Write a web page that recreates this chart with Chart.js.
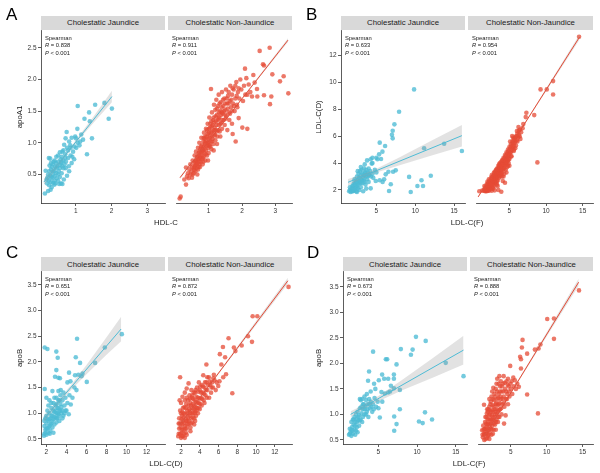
<!DOCTYPE html>
<html><head><meta charset="utf-8">
<script src="https://cdn.jsdelivr.net/npm/chart.js@4/dist/chart.umd.min.js"></script>
<style>
body{margin:0;width:600px;height:473px;overflow:hidden;background:#fff;font-family:"Liberation Sans",Arial,sans-serif;position:relative}
.strip{position:absolute;background:#d9d9d9;color:#1a1a1a;font-size:7.8px;text-align:center;white-space:nowrap;display:flex;align-items:center;justify-content:center;transform:translateZ(0)}
.lab{position:absolute;font-size:17px;line-height:17px;color:#000}
.xt{position:absolute;font-size:7.8px;line-height:9px;color:#1a1a1a;transform:translateX(-50%);white-space:nowrap}
.yt{position:absolute;font-size:7.8px;line-height:9px;color:#1a1a1a;transform:translate(-50%,-50%) rotate(-90deg);white-space:nowrap}
.ann{position:absolute;font-size:5.8px;line-height:7.5px;color:#1a1a1a;white-space:nowrap}
canvas{position:absolute}
</style></head><body>
<script>
// ---------------- DATA ----------------
const STRIPS = ['Cholestatic Jaundice', 'Cholestatic Non-Jaundice'];
const PANELS = ['A', 'B', 'C', 'D'];
const XTITLES = ['HDL-C', 'LDL-C(F)', 'LDL-C(D)', 'LDL-C(F)'];
const YTITLES = ['apoA1', 'LDL-C(D)', 'apoB', 'apoB'];
const R_J = ['0.838', '0.633', '0.651', '0.673'];
const R_N = ['0.911', '0.954', '0.872', '0.888'];

const A_XTICKS = [1, 2, 3];
const A_XLABELS = ['1', '2', '3'];
const A_YTICKS = [0.5, 1.0, 1.5, 2.0, 2.5];
const A_YLABELS = ['0.5', '1.0', '1.5', '2.0', '2.5'];
const B_XTICKS = [5, 10, 15];
const B_XLABELS = ['5', '10', '15'];
const B_YTICKS = [2, 4, 6, 8, 10, 12];
const B_YLABELS = ['2', '4', '6', '8', '10', '12'];
const C_XTICKS = [2, 4, 6, 8, 10, 12];
const C_XLABELS = ['2', '4', '6', '8', '10', '12'];
const C_YTICKS = [0.5, 1.0, 1.5, 2.0, 2.5, 3.0, 3.5];
const C_YLABELS = ['0.5', '1.0', '1.5', '2.0', '2.5', '3.0', '3.5'];
const D_XTICKS = [5, 10, 15];
const D_XLABELS = ['5', '10', '15'];
const D_YTICKS = C_YTICKS;
const D_YLABELS = C_YLABELS;

// A: HDL-C vs apoA1
const A_J = [[1.05,1.58],[1.37,1.48],[1.54,1.60],[1.80,1.63],[2.01,1.54],[1.92,1.38],[1.24,1.38],[1.39,1.34],[1.45,1.07],[1.31,0.82],[1.04,1.22],[1.15,1.13],[0.74,1.17],[0.88,1.08],[1.0,1.07],[0.81,1.02],[0.96,0.94],[0.92,0.86],[1.01,0.92],[0.71,1.07],[0.84,0.96],[0.67,0.97],[0.62,0.86],[0.55,0.85],[0.5,0.80],[0.45,0.78],[0.6,0.78],[0.7,0.82],[0.78,0.88],[0.85,0.80],[0.4,0.72],[0.5,0.70],[0.58,0.68],[0.65,0.72],[0.72,0.70],[0.24,0.76],[0.28,0.75],[0.35,0.66],[0.42,0.62],[0.48,0.63],[0.55,0.60],[0.62,0.63],[0.71,0.60],[0.81,0.55],[0.3,0.58],[0.36,0.55],[0.45,0.52],[0.52,0.55],[0.6,0.52],[0.15,0.56],[0.22,0.50],[0.28,0.48],[0.34,0.45],[0.4,0.47],[0.46,0.44],[0.55,0.46],[0.18,0.42],[0.24,0.40],[0.30,0.38],[0.36,0.37],[0.42,0.36],[0.5,0.40],[0.58,0.36],[0.53,0.35],[0.19,0.36],[0.25,0.33],[0.32,0.30],[0.29,0.26],[0.13,0.20],[0.22,0.24],[0.4,0.34],[0.62,0.35],[0.66,0.42],[0.75,0.48],[0.8,0.63],[0.88,0.68],[0.95,0.74],[0.78,0.76],[0.9,0.78],[0.68,0.66],[1.1,0.96],[1.05,1.0],[0.98,1.1],[1.2,1.05],[0.85,0.92],[0.33,0.62],[0.38,0.70],[0.44,0.68],[0.26,0.64],[0.57,0.74],[1.12,1.02],[0.3,0.45],[0.35,0.5],[0.4,0.55],[0.45,0.6],[0.5,0.5],[0.55,0.65],[0.6,0.7],[0.65,0.6],[0.3,0.68],[0.25,0.55],[0.2,0.45],[0.4,0.4],[0.7,0.76],[0.75,0.92],[0.65,0.88]];
const A_N = [[0.13,0.12],[0.16,0.15],[0.27,0.42],[0.32,0.34],[0.32,0.61],[0.35,0.47],[0.38,0.52],[0.4,0.44],[0.42,0.58],[0.45,0.50],[0.45,0.66],[0.48,0.55],[0.5,0.45],[0.5,0.62],[0.52,0.72],[0.55,0.52],[0.55,0.60],[0.57,0.68],[0.58,0.80],[0.6,0.55],[0.6,0.64],[0.62,0.72],[0.62,0.86],[0.64,0.60],[0.65,0.78],[0.66,0.68],[0.68,0.92],[0.68,0.58],[0.7,0.74],[0.7,0.84],[0.72,0.66],[0.72,1.0],[0.74,0.78],[0.75,0.90],[0.76,0.70],[0.78,0.84],[0.78,1.08],[0.8,0.74],[0.8,0.96],[0.82,0.66],[0.82,0.88],[0.84,1.02],[0.85,0.78],[0.86,0.94],[0.86,1.16],[0.88,0.84],[0.88,1.06],[0.9,0.72],[0.9,0.98],[0.92,1.22],[0.92,0.88],[0.94,1.10],[0.95,0.80],[0.96,1.0],[0.97,1.30],[0.98,0.92],[1.0,1.16],[1.0,1.06],[1.0,0.84],[1.02,1.40],[1.03,0.96],[1.04,1.24],[1.05,1.12],[1.06,1.02],[1.07,1.85],[1.08,1.34],[1.08,0.90],[1.1,1.18],[1.1,1.48],[1.12,1.06],[1.12,1.28],[1.14,0.98],[1.15,1.40],[1.16,1.60],[1.17,1.14],[1.18,1.24],[1.2,1.52],[1.2,1.04],[1.22,1.34],[1.23,1.68],[1.24,1.18],[1.25,1.44],[1.26,1.10],[1.28,1.58],[1.3,1.28],[1.3,1.76],[1.32,1.40],[1.33,1.18],[1.35,1.50],[1.36,1.64],[1.38,1.32],[1.4,1.80],[1.4,1.22],[1.42,1.46],[1.44,1.58],[1.45,1.36],[1.47,1.70],[1.48,1.28],[1.5,1.52],[1.52,1.84],[1.53,1.42],[1.55,1.62],[1.56,1.20],[1.58,1.74],[1.6,1.48],[1.62,1.36],[1.63,1.66],[1.65,1.90],[1.67,1.56],[1.7,1.76],[1.7,1.30],[1.72,1.14],[1.73,1.62],[1.75,1.84],[1.78,1.50],[1.8,1.70],[1.81,1.02],[1.83,1.96],[1.85,1.60],[1.86,1.56],[1.88,1.80],[1.9,1.39],[1.92,1.70],[1.95,2.0],[1.98,1.84],[2.01,1.24],[2.03,1.66],[2.06,1.90],[2.09,2.17],[2.1,1.76],[2.13,2.02],[2.16,1.22],[2.16,1.76],[2.2,1.92],[2.25,1.80],[2.3,1.73],[2.34,2.07],[2.38,1.95],[2.45,1.85],[2.46,1.73],[2.53,2.45],[2.63,2.24],[2.66,2.22],[2.66,1.75],[2.83,2.50],[2.84,1.61],[2.88,1.73],[2.91,2.08],[3.14,1.97],[3.25,2.05],[3.39,1.78],[0.66,0.50],[0.74,0.62],[0.95,1.2],[1.05,1.3],[1.15,0.88],[1.25,0.98],[1.35,1.1],[0.84,0.7],[0.98,0.72],
[0.52,0.5],[0.56,0.57],[0.6,0.7],[0.63,0.66],[0.66,0.74],[0.69,0.8],[0.71,0.7],[0.73,0.86],[0.75,0.76],[0.77,0.94],[0.79,0.8],[0.81,0.9],[0.83,0.76],[0.85,1.08],[0.87,0.9],[0.89,1.0],[0.91,0.82],[0.93,1.04],[0.95,0.95],[0.97,1.14],[0.99,1.0],[1.01,1.22],[1.03,1.08],[1.05,0.94],[1.07,1.16],[1.09,1.26],[1.11,1.1],[1.13,1.36],[1.15,1.2],[1.17,1.32],[1.19,1.12],[1.21,1.42],[1.23,1.28],[1.25,1.54],[1.27,1.36],[1.29,1.2],[1.31,1.48],[1.33,1.62],[1.35,1.3],[1.37,1.44],[1.39,1.56],[1.41,1.36],[1.43,1.68],[1.46,1.5],[1.49,1.62],[1.51,1.38],[1.54,1.7],[1.57,1.54],[1.6,1.8],[1.64,1.46],[1.68,1.68],[1.72,1.86],[1.76,1.58],[1.8,1.9],[1.84,1.74],[1.9,1.86],[0.58,0.62],[0.7,0.62],[0.8,0.86],[0.9,1.1],[1.0,0.96],[1.1,1.02],[1.2,1.2],[1.3,1.38],[1.4,1.48],[1.5,1.44],[1.6,1.62],[1.7,1.5]];
const A_J_LINE = [[0.10,0.38],[2.01,1.73]];
const A_J_BAND_X = [0.10,0.6,1.0,1.5,2.01];
const A_J_BAND_LO = [0.33,0.71,0.995,1.32,1.64];
const A_J_BAND_HI = [0.43,0.75,1.045,1.42,1.82];
const A_N_LINE = [[0.14,0.45],[3.38,2.62]];
const A_N_BAND_X = [0.14,1.0,2.0,3.38];
const A_N_BAND_LO = [0.43,1.025,1.69,2.59];
const A_N_BAND_HI = [0.47,1.035,1.71,2.65];

// B: LDL-C(F) vs LDL-C(D)
const B_J = [[1.5,1.9],[1.6,2.0],[1.7,1.85],[1.8,2.1],[1.9,1.95],[2.0,2.3],[2.0,1.9],[2.1,2.5],[2.2,2.0],[2.2,2.8],[2.3,2.2],[2.4,2.6],[2.4,1.9],[2.5,3.0],[2.5,2.3],[2.6,2.1],[2.6,2.7],[2.7,3.2],[2.7,2.4],[2.8,2.0],[2.8,2.9],[2.9,3.4],[2.9,2.6],[3.0,3.1],[3.0,2.2],[3.1,2.8],[3.1,3.5],[3.2,2.5],[3.2,3.2],[3.3,1.9],[3.3,2.9],[3.4,3.6],[3.4,2.7],[3.5,3.3],[3.6,3.0],[3.6,2.4],[3.7,3.5],[3.8,2.8],[3.9,3.3],[4.0,3.6],[4.0,2.6],[4.1,3.1],[4.2,3.4],[4.27,4.28],[4.4,3.96],[4.49,4.4],[4.27,2.12],[4.5,3.2],[4.6,2.9],[4.8,3.5],[4.92,2.67],[5.0,3.3],[5.13,4.28],[5.35,4.65],[5.43,5.52],[5.43,2.72],[5.78,4.85],[5.8,2.6],[6.0,2.79],[6.12,5.27],[6.2,3.16],[6.55,3.36],[6.63,1.92],[6.85,2.42],[7.0,6.1],[7.1,6.4],[7.1,5.84],[7.15,3.36],[7.32,6.88],[7.49,3.46],[7.92,7.82],[9.21,2.97],[9.42,1.85],[9.85,9.48],[10.28,2.3],[10.8,2.72],[11.0,2.3],[11.14,5.1],[12.0,3.06],[13.72,5.44],[16.0,4.9],[1.9,2.3],[2.3,2.5],[3.5,3.9],[3.8,4.2],[2.6,3.4],[3.0,3.7],[4.5,4.0],[5.0,4.4],[5.6,4.3],[3.7,2.1],[4.3,3.0],[1.6,2.2],[1.8,1.9],[2.0,2.1],[2.2,2.4],[2.4,2.2],[2.6,2.5],[2.8,2.7],[3.0,2.5],[3.2,2.7],[3.4,3.1],[3.6,3.3],[3.8,3.0],[4.0,3.1],[2.1,1.95],[2.5,1.85],[3.5,2.6]];
const B_N = [[0.9,1.9],[1.3,1.95],[1.5,2.0],[1.6,2.3],[1.7,1.9],[1.8,2.1],[1.9,2.4],[2.0,2.0],[2.0,2.6],[2.1,2.2],[2.2,2.8],[2.2,1.95],[2.3,2.4],[2.4,2.1],[2.4,2.6],[2.5,2.9],[2.5,2.3],[2.6,2.5],[2.6,3.1],[2.7,2.2],[2.7,2.7],[2.8,3.0],[2.8,2.4],[2.9,2.8],[2.9,3.3],[3.0,2.6],[3.0,3.0],[3.0,1.97],[3.1,3.4],[3.1,2.8],[3.2,3.1],[3.2,2.5],[3.3,3.6],[3.3,2.9],[3.4,3.3],[3.4,2.7],[3.5,3.1],[3.5,3.8],[3.6,3.5],[3.6,2.9],[3.7,3.3],[3.7,4.0],[3.8,3.7],[3.8,3.1],[3.9,1.87],[3.9,3.5],[4.0,4.2],[4.0,3.3],[4.1,3.8],[4.1,2.67],[4.2,4.4],[4.2,3.6],[4.3,4.0],[4.3,3.2],[4.4,2.54],[4.4,4.6],[4.4,3.8],[4.5,4.2],[4.5,3.5],[4.6,4.8],[4.6,4.0],[4.7,4.4],[4.7,3.7],[4.8,5.0],[4.8,4.2],[4.9,4.6],[5.0,5.2],[5.0,4.3],[5.1,4.8],[5.2,5.4],[5.2,4.5],[5.3,5.0],[5.4,5.6],[5.38,6.01],[5.5,5.2],[5.6,5.76],[5.6,4.9],[5.7,5.5],[5.8,5.9],[5.9,5.3],[6.0,6.0],[6.03,6.38],[6.1,5.6],[6.24,6.68],[6.3,6.1],[6.46,6.5],[6.5,5.8],[6.6,6.3],[7.23,7.42],[7.32,7.74],[8.39,7.57],[8.82,4.05],[9.25,9.48],[10.1,9.48],[10.96,10.1],[10.96,9.1],[14.5,13.4],[3.5,2.0],[2.6,1.95],[1.9,1.9],[2.2,2.3],[3.6,3.9],[4.9,4.0],[5.1,5.6],[5.5,5.9],[4.0,3.0],[3.3,2.4],[2.8,2.1],[4.6,3.3],[3.9,4.1],[5.8,5.1],[6.2,5.9],[6.8,6.6],[6.9,6.9],
[1.6,1.95],[1.7,2.2],[1.8,1.95],[1.9,2.2],[2.0,2.3],[2.1,2.5],[2.1,1.95],[2.2,2.55],[2.3,2.1],[2.3,2.7],[2.4,2.35],[2.5,2.6],[2.5,2.05],[2.6,2.8],[2.7,2.45],[2.7,3.0],[2.8,2.65],[2.9,3.1],[2.9,2.3],[3.0,2.85],[3.0,3.3],[3.1,2.6],[3.1,3.1],[3.2,2.9],[3.2,3.5],[3.3,3.2],[3.3,2.65],[3.4,3.5],[3.4,3.0],[3.5,3.6],[3.5,3.25],[3.6,3.2],[3.6,3.7],[3.7,3.6],[3.7,3.0],[3.8,3.4],[3.8,3.9],[3.9,3.8],[3.9,3.2],[4.0,3.6],[4.0,4.0],[4.1,4.2],[4.1,3.5],[4.2,3.9],[4.3,4.3],[4.3,3.6],[4.4,4.1],[4.5,4.5],[4.5,3.9],[4.6,4.3],[4.7,4.7],[4.7,4.1],[4.8,4.5],[4.9,4.9],[4.9,4.3],[5.0,4.7],[5.1,5.1],[5.2,4.8],[5.3,5.3],[5.4,5.1],[5.5,5.5],[5.6,5.3],[5.7,5.8],[5.8,5.6],[5.9,6.0],[6.0,5.7],[6.1,6.2],[6.3,6.4],[6.4,6.0],[5.0,3.8],[5.3,4.5],[4.2,3.0],[3.4,2.3],[2.5,2.4],[4.8,3.8],[5.6,5.0]];
const B_J_LINE = [[1.35,2.57],[16.0,6.04]];
const B_J_BAND_X = [1.35,3,5,8,12,16];
const B_J_BAND_LO = [2.32,2.82,3.29,3.84,4.54,5.24];
const B_J_BAND_HI = [2.82,3.10,3.57,4.44,5.64,6.84];
const B_N_LINE = [[0.74,1.48],[14.56,13.37]];
const B_N_BAND_X = [0.74,4,8,14.56];
const B_N_BAND_LO = [1.43,4.26,7.66,13.17];
const B_N_BAND_HI = [1.53,4.30,7.78,13.57];

// C: LDL-C(D) vs apoB
const C_J = [[1.8,0.6],[1.8,0.75],[1.9,0.9],[1.9,0.68],[2.0,0.8],[2.0,0.58],[2.0,0.95],[2.1,0.7],[2.1,1.05],[2.2,0.62],[2.2,0.85],[2.3,0.75],[2.3,1.0],[2.4,0.9],[2.4,0.66],[2.5,1.1],[2.5,0.8],[2.6,0.95],[2.6,0.72],[2.7,1.2],[2.7,0.88],[2.8,1.02],[2.8,0.78],[2.9,1.15],[2.9,0.92],[3.0,1.3],[3.0,1.0],[3.0,0.82],[3.1,1.1],[3.1,0.9],[3.2,1.25],[3.2,0.98],[3.3,1.05],[3.3,0.85],[3.4,1.18],[3.4,1.35],[3.5,1.0],[3.5,1.12],[3.6,1.25],[3.7,0.95],[3.8,1.15],[3.9,1.3],[4.0,1.05],[4.1,1.2],[4.23,0.98],[4.3,1.35],[4.43,1.17],[4.6,1.3],[1.83,2.28],[2.1,2.25],[2.99,2.2],[3.13,2.08],[2.99,1.84],[2.86,1.71],[3.2,1.69],[3.35,1.68],[1.83,1.47],[2.6,1.43],[3.2,1.43],[3.43,1.45],[4.1,1.6],[4.26,1.79],[4.86,1.74],[4.93,2.09],[5.06,2.45],[5.36,1.98],[5.6,1.77],[6.03,1.61],[6.86,1.98],[7.83,2.28],[9.53,2.54],[4.8,1.5],[5.0,1.45],[3.7,1.4],[2.3,1.25],[2.0,1.3],[1.76,0.56],[2.33,0.6],[2.7,0.62],[3.6,0.9],[3.9,1.05],[5.2,1.75],[5.5,1.72],[4.4,1.62],[3.0,1.18],[1.8,0.85],[1.9,0.62],[2.0,0.7],[2.1,0.88],[2.2,0.72],[2.3,0.88],[2.4,0.78],[2.5,0.95],[2.6,0.85],[2.7,1.05],[2.8,0.92],[2.9,1.05],[3.0,0.9],[3.1,1.0],[3.2,1.1],[3.3,0.95],[3.4,1.05],[3.6,1.05],[3.8,1.0],[2.2,1.15],[2.5,1.2],[2.8,1.3],[3.3,1.25]];
const C_N = [[1.7,0.55],[1.8,0.7],[1.8,0.9],[1.9,0.6],[1.9,1.05],[1.9,1.70],[2.0,0.8],[2.0,0.52],[2.0,1.2],[2.1,0.95],[2.1,0.68],[2.2,0.85],[2.2,1.1],[2.3,0.6],[2.3,1.0],[2.4,0.75],[2.4,1.25],[2.5,0.9],[2.5,1.1],[2.6,0.7],[2.6,1.3],[2.7,1.0],[2.7,0.85],[2.8,1.58],[2.8,1.15],[2.8,0.78],[2.9,0.95],[2.9,1.35],[3.0,1.05],[3.0,0.72],[3.0,1.2],[3.1,0.9],[3.1,1.45],[3.2,1.1],[3.2,0.82],[3.3,1.28],[3.3,1.0],[3.4,1.15],[3.4,0.9],[3.5,1.4],[3.5,1.05],[3.6,1.22],[3.6,0.95],[3.7,1.5],[3.7,1.1],[3.8,1.3],[3.8,1.0],[3.9,1.2],[4.0,1.45],[4.0,1.08],[4.1,1.3],[4.2,1.55],[4.2,1.15],[4.3,1.4],[4.37,1.74],[4.4,1.25],[4.5,1.5],[4.6,1.35],[4.7,1.95],[4.7,1.6],[4.8,1.45],[4.97,1.7],[5.0,1.3],[5.1,1.55],[5.2,1.4],[5.3,1.6],[5.4,1.5],[5.57,1.64],[5.7,1.45],[5.8,1.6],[5.97,1.53],[6.1,1.62],[6.14,2.15],[6.3,1.95],[6.47,2.29],[6.5,1.7],[6.7,2.09],[6.8,1.76],[7.07,2.46],[7.47,1.39],[7.64,2.28],[7.8,2.21],[8.47,2.32],[9.14,2.5],[9.57,2.39],[9.64,2.89],[10.14,2.89],[13.47,3.46],[2.2,0.55],[2.5,0.62],[3.2,1.35],[3.9,1.6],[4.5,1.2],[2.4,1.4],[2.0,1.0],[1.75,0.8],[3.5,0.85],[4.8,1.7],[5.5,1.75],
[1.75,0.6],[1.85,0.8],[1.95,0.72],[2.05,0.62],[2.05,0.88],[2.15,0.78],[2.15,1.02],[2.25,0.68],[2.25,0.92],[2.35,0.82],[2.35,1.12],[2.45,0.7],[2.45,0.98],[2.55,0.85],[2.55,1.18],[2.65,0.78],[2.65,1.05],[2.75,0.92],[2.75,1.25],[2.85,0.85],[2.85,1.08],[2.95,1.0],[2.95,1.28],[3.05,0.8],[3.05,1.15],[3.15,1.0],[3.15,1.3],[3.25,0.92],[3.25,1.18],[3.35,1.08],[3.35,1.4],[3.45,1.0],[3.45,1.25],[3.55,1.12],[3.55,1.45],[3.65,1.05],[3.65,1.32],[3.75,1.2],[3.85,1.1],[3.85,1.42],[3.95,1.28],[4.05,1.18],[4.05,1.52],[4.15,1.4],[4.25,1.28],[4.35,1.52],[4.45,1.38],[4.55,1.6],[4.65,1.45],[4.75,1.3],[4.9,1.55],[5.05,1.62],[5.25,1.5],[5.45,1.68],[2.1,0.55],[2.6,0.58],[3.0,0.65],[3.4,0.78],[2.4,0.52],[1.85,1.25],[2.15,1.32],[2.6,1.48]];
const C_J_LINE = [[1.75,0.89],[9.46,2.64]];
const C_J_BAND_X = [1.75,3,4.5,6,8,9.46];
const C_J_BAND_LO = [0.83,1.13,1.46,1.76,2.14,2.40];
const C_J_BAND_HI = [0.95,1.21,1.56,1.94,2.48,2.88];
const C_N_LINE = [[1.8,0.76],[13.4,3.58]];
const C_N_BAND_X = [1.8,4,8,13.4];
const C_N_BAND_LO = [0.74,1.28,2.24,3.52];
const C_N_BAND_HI = [0.78,1.30,2.30,3.64];

// D: LDL-C(F) vs apoB
const D_J = [[1.2,0.6],[1.3,0.72],[1.4,0.65],[1.5,0.85],[1.5,0.58],[1.6,0.75],[1.7,0.9],[1.7,0.62],[1.8,0.8],[1.9,0.95],[1.9,0.7],[2.0,0.6],[2.0,0.85],[2.1,1.0],[2.2,0.75],[2.2,0.92],[2.3,0.65],[2.3,1.05],[2.4,0.88],[2.5,0.98],[2.5,0.78],[2.6,1.12],[2.7,0.9],[2.7,1.28],[2.8,1.02],[2.9,1.3],[2.9,0.85],[3.0,1.1],[3.0,0.95],[3.1,1.2],[3.2,1.0],[3.3,1.15],[3.4,1.28],[3.5,1.05],[3.6,1.2],[3.7,0.95],[3.8,1.3],[3.9,1.12],[4.0,1.25],[4.2,1.05],[4.3,1.2],[4.5,1.32],[4.7,1.15],[4.9,1.25],[5.0,1.12],[3.79,1.84],[3.66,1.66],[4.31,2.23],[4.44,1.6],[5.05,1.67],[5.48,1.78],[5.74,1.7],[5.96,2.08],[6.13,2.08],[6.26,1.7],[6.61,1.56],[7.0,1.78],[7.0,1.51],[7.0,1.7],[7.34,1.98],[7.9,2.28],[9.2,2.17],[9.42,2.27],[9.85,2.52],[11.11,2.44],[13.7,2.01],[16.0,1.75],[5.39,1.44],[5.83,1.41],[6.26,1.43],[7.77,1.48],[7.77,1.1],[7.04,0.96],[5.18,0.94],[7.34,0.81],[7.04,0.68],[10.24,0.86],[10.72,0.83],[11.02,1.04],[11.93,0.9],[4.0,1.45],[4.6,1.5],[3.5,1.4],[5.5,1.25],[6.5,1.45],[2.6,1.3],[3.2,1.35],[1.3,0.62],[1.6,0.68],[1.8,0.9],[2.0,0.78],[2.2,0.85],[2.4,0.95],[2.6,0.88],[2.8,1.15],[3.0,1.2],[3.2,1.1],[3.4,1.0],[3.6,1.1],[3.8,1.2],[4.1,1.15],[4.4,1.1],[2.1,0.68],[1.5,0.7]];
const D_N = [[1.0,0.69],[1.1,0.55],[1.2,0.7],[1.26,1.19],[1.3,0.6],[1.4,0.85],[1.5,0.52],[1.5,0.72],[1.6,0.95],[1.6,0.62],[1.7,0.8],[1.8,1.05],[1.8,0.58],[1.9,0.7],[1.9,0.9],[2.0,1.15],[2.0,0.65],[2.1,0.82],[2.1,1.0],[2.2,0.72],[2.2,1.25],[2.3,0.9],[2.3,0.6],[2.4,1.08],[2.4,0.78],[2.5,1.3],[2.55,1.52],[2.5,0.95],[2.6,0.7],[2.6,1.15],[2.7,0.88],[2.7,1.4],[2.8,1.0],[2.8,0.8],[2.9,1.2],[2.9,1.5],[3.0,0.9],[3.0,1.1],[3.1,1.7],[3.1,1.3],[3.2,0.85],[3.2,1.05],[3.3,1.4],[3.3,1.2],[3.4,0.95],[3.5,1.55],[3.5,1.1],[3.6,1.3],[3.7,1.0],[3.7,1.45],[3.8,1.2],[3.9,1.6],[4.0,1.35],[4.05,0.82],[4.1,1.15],[4.2,1.5],[4.27,0.98],[4.3,1.3],[4.4,1.65],[4.5,1.4],[4.6,1.2],[4.7,1.55],[4.8,1.35],[4.91,1.95],[5.0,1.5],[5.1,1.65],[5.2,1.4],[5.34,1.72],[5.4,1.55],[5.56,1.67],[5.7,1.5],[5.9,1.6],[6.11,1.54],[6.29,2.13],[6.41,2.08],[6.41,1.9],[6.54,2.31],[6.63,2.46],[7.27,2.19],[7.27,1.39],[8.35,2.27],[8.78,1.02],[8.86,2.29],[9.12,2.37],[10.07,2.87],[11.01,2.88],[11.01,2.48],[14.5,3.43],[1.4,0.62],[2.0,0.52],[2.3,1.35],[3.6,1.65],[4.6,1.7],[2.9,0.7],[3.4,1.75],[1.7,1.1],[4.0,1.75],[3.0,1.6],
[1.05,0.6],[1.15,0.78],[1.25,0.62],[1.35,0.72],[1.45,0.95],[1.55,0.65],[1.55,0.82],[1.65,0.75],[1.65,1.02],[1.75,0.68],[1.75,0.9],[1.85,0.82],[1.85,1.1],[1.95,0.6],[1.95,0.98],[2.05,0.75],[2.05,1.08],[2.15,0.9],[2.15,1.2],[2.25,0.82],[2.25,1.05],[2.35,0.7],[2.35,0.98],[2.45,1.18],[2.45,0.88],[2.55,1.05],[2.65,0.82],[2.65,1.28],[2.75,1.1],[2.75,0.95],[2.85,1.35],[2.85,1.05],[2.95,1.22],[2.95,0.85],[3.05,1.45],[3.05,1.0],[3.15,1.18],[3.25,1.32],[3.25,0.95],[3.35,1.08],[3.45,1.45],[3.45,1.22],[3.55,1.35],[3.65,1.12],[3.75,1.55],[3.85,1.3],[3.95,1.45],[4.05,1.22],[4.15,1.62],[4.35,1.45],[4.45,1.3],[4.55,1.58],[4.75,1.45],[4.95,1.6],[1.3,0.5],[1.7,0.54],[2.5,0.62],[2.0,1.3],[2.4,1.45],[3.3,1.6]];
const D_J_LINE = [[1.4,1.0],[16.0,2.26]];
const D_J_BAND_X = [1.4,3,5,8,12,16];
const D_J_BAND_LO = [0.94,1.10,1.26,1.47,1.72,1.98];
const D_J_BAND_HI = [1.06,1.18,1.36,1.67,2.10,2.54];
const D_N_LINE = [[1.2,0.55],[14.45,3.59]];
const D_N_BAND_X = [1.2,4,8,14.45];
const D_N_BAND_LO = [0.53,1.18,2.08,3.52];
const D_N_BAND_HI = [0.57,1.20,2.14,3.66];

// ---------------- DRAWING ----------------
Chart.defaults.font.family = '"Liberation Sans", Arial, sans-serif';
const BLUE = 'rgba(77,187,213,0.78)', BLUE_L = '#4DBBD5';
const RED = 'rgba(230,75,53,0.75)', RED_L = '#E64B35';
const AX = '#333';

function xy(a){ return a.map(p => ({x:p[0], y:p[1]})); }
function band(xs, ys){ return xs.map((x,i) => ({x:x, y:ys[i]})); }

function facet(o){
  const P = 8, XH = 14;
  const cl = o.showY ? o.px : o.L - P;
  const ct = o.T - P;
  const cw = o.R + P - cl;
  const ch = o.B + XH - ct;
  const c = document.createElement('canvas');
  c.width = cw; c.height = ch;
  c.style.left = cl + 'px'; c.style.top = ct + 'px';
  c.style.width = cw + 'px'; c.style.height = ch + 'px';
  document.body.appendChild(c);
  const tickFont = {size: 6.5};
  new Chart(c, {
    type: 'scatter',
    data: {datasets: [
      {type:'line', data: xy(o.line), borderColor: o.lc, borderWidth: 1, pointRadius: 0, fill: false, order: 0},
      {type:'line', data: band(o.bx, o.bh), borderWidth: 0, borderColor:'rgba(0,0,0,0)', pointRadius: 0, backgroundColor: 'rgba(150,150,150,0.28)', fill: '+1', order: 1},
      {type:'line', data: band(o.bx, o.bl), borderWidth: 0, borderColor:'rgba(0,0,0,0)', pointRadius: 0, fill: false, order: 1},
      {data: xy(o.pts), pointRadius: 2.3, pointBackgroundColor: o.pc, backgroundColor: o.pc, pointBorderWidth: 0, borderWidth: 0, order: 2}
    ]},
    options: {
      responsive: false, animation: false, events: [],
      plugins: {legend: {display: false}, tooltip: {enabled: false}},
      layout: {padding: {left: o.showY ? 0 : P, right: P, top: P, bottom: 0}},
      scales: {
        x: {
          type: 'linear', position: 'bottom', min: o.xr[0], max: o.xr[1],
          afterFit: s => { s.height = XH; },
          afterBuildTicks: s => { s.ticks = o.xt.map(v => ({value: v})); },
          ticks: {callback: v => o.xl[o.xt.indexOf(v)], font: tickFont, color: AX, padding: 1.5, maxRotation: 0, autoSkip: false},
          grid: {display: true, drawOnChartArea: false, drawTicks: true, tickLength: 3, color: AX, lineWidth: 0.8},
          border: {display: true, color: AX, width: 0.8}
        },
        y: {
          type: 'linear', position: 'left', min: o.yr[0], max: o.yr[1], display: o.showY,
          afterFit: s => { s.width = o.L - cl; },
          afterBuildTicks: s => { s.ticks = o.yt.map(v => ({value: v})); },
          ticks: {callback: v => o.yl[o.yt.indexOf(v)], font: tickFont, color: AX, padding: 1.5, autoSkip: false},
          grid: {display: true, drawOnChartArea: false, drawTicks: true, tickLength: 3, color: AX, lineWidth: 0.8},
          border: {display: true, color: AX, width: 0.8}
        }
      }
    }
  });
}

function addDiv(cls, html, style){
  const d = document.createElement('div');
  d.className = cls; d.innerHTML = html;
  Object.assign(d.style, style);
  document.body.appendChild(d);
}

const LAYOUT = [
  {px:0,   T:30,  B:203, L1:41,  R1:165, L2:168, R2:292, st:15.5, sh:14.5, lab:[6,6],    xc:166, xtop:217.5, yc:[19,116.5]},
  {px:300, T:30,  B:203, L1:341, R1:465, L2:468, R2:593, st:15.5, sh:14.5, lab:[306,6],  xc:467, xtop:218,   yc:[318,116.5]},
  {px:0,   T:271, B:444, L1:41,  R1:165, L2:168, R2:292, st:257,  sh:14,   lab:[6,244],  xc:166, xtop:459,   yc:[19,357.5]},
  {px:300, T:271, B:444, L1:343, R1:467, L2:470, R2:593, st:257,  sh:14,   lab:[307,244],xc:469, xtop:459,   yc:[318,357.5]}
];

const SPEC = [
  {J:A_J, N:A_N, JL:A_J_LINE, NL:A_N_LINE, JB:[A_J_BAND_X,A_J_BAND_LO,A_J_BAND_HI], NB:[A_N_BAND_X,A_N_BAND_LO,A_N_BAND_HI], xr:[0.02,3.5], yr:[0.05,2.78], xt:A_XTICKS, xl:A_XLABELS, yt:A_YTICKS, yl:A_YLABELS},
  {J:B_J, N:B_N, JL:B_J_LINE, NL:B_N_LINE, JB:[B_J_BAND_X,B_J_BAND_LO,B_J_BAND_HI], NB:[B_N_BAND_X,B_N_BAND_LO,B_N_BAND_HI], xr:[0.45,16.4], yr:[1.03,13.9], xt:B_XTICKS, xl:B_XLABELS, yt:B_YTICKS, yl:B_YLABELS},
  {J:C_J, N:C_N, JL:C_J_LINE, NL:C_N_LINE, JB:[C_J_BAND_X,C_J_BAND_LO,C_J_BAND_HI], NB:[C_N_BAND_X,C_N_BAND_LO,C_N_BAND_HI], xr:[1.46,13.84], yr:[0.40,3.77], xt:C_XTICKS, xl:C_XLABELS, yt:C_YTICKS, yl:C_YLABELS},
  {J:D_J, N:D_N, JL:D_J_LINE, NL:D_N_LINE, JB:[D_J_BAND_X,D_J_BAND_LO,D_J_BAND_HI], NB:[D_N_BAND_X,D_N_BAND_LO,D_N_BAND_HI], xr:[0.42,16.45], yr:[0.42,3.81], xt:D_XTICKS, xl:D_XLABELS, yt:D_YTICKS, yl:D_YLABELS}
];

SPEC.forEach((s, i) => {
  const g = LAYOUT[i];
  addDiv('strip', STRIPS[0], {left:g.L1+'px', top:g.st+'px', width:(g.R1-g.L1)+'px', height:g.sh+'px'});
  addDiv('strip', STRIPS[1], {left:g.L2+'px', top:g.st+'px', width:(g.R2-g.L2)+'px', height:g.sh+'px'});
  facet({showY:true, px:g.px, L:g.L1, R:g.R1, T:g.T, B:g.B, xr:s.xr, yr:s.yr, xt:s.xt, xl:s.xl, yt:s.yt, yl:s.yl,
         pts:s.J, pc:BLUE, lc:BLUE_L, line:s.JL, bx:s.JB[0], bl:s.JB[1], bh:s.JB[2]});
  facet({showY:false, px:g.px, L:g.L2, R:g.R2, T:g.T, B:g.B, xr:s.xr, yr:s.yr, xt:s.xt, xl:s.xl, yt:s.yt, yl:s.yl,
         pts:s.N, pc:RED, lc:RED_L, line:s.NL, bx:s.NB[0], bl:s.NB[1], bh:s.NB[2]});
  const at = g.T + 4.5;
  addDiv('ann', 'Spearman<br><i>R</i> = ' + R_J[i] + '<br><i>P</i> &lt; 0.001', {left:(g.L1+4)+'px', top:at+'px'});
  addDiv('ann', 'Spearman<br><i>R</i> = ' + R_N[i] + '<br><i>P</i> &lt; 0.001', {left:(g.L2+4)+'px', top:at+'px'});
  addDiv('xt', XTITLES[i], {left:g.xc+'px', top:g.xtop+'px'});
  addDiv('yt', YTITLES[i], {left:g.yc[0]+'px', top:g.yc[1]+'px'});
  addDiv('lab', PANELS[i], {left:g.lab[0]+'px', top:g.lab[1]+'px'});
});
</script>
</body></html>
